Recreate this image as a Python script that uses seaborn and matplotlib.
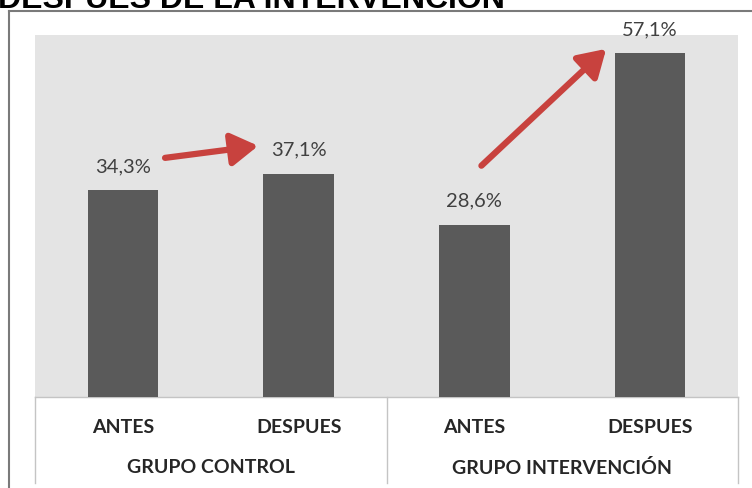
import matplotlib
matplotlib.use("Agg")
import matplotlib.pyplot as plt
import matplotlib.transforms as mtransforms
from matplotlib.lines import Line2D
import seaborn as sns
import pandas as pd

# ---- data ----
title = "DESPUÉS DE LA INTERVENCIÓN"
groups = ["GRUPO CONTROL", "GRUPO CONTROL", "GRUPO INTERVENCIÓN", "GRUPO INTERVENCIÓN"]
stages = ["ANTES", "DESPUES", "ANTES", "DESPUES"]
values = [34.3, 37.1, 28.6, 57.1]
group_labels = ["GRUPO CONTROL", "GRUPO INTERVENCIÓN"]

df = pd.DataFrame({"grupo": groups, "momento": stages, "valor": values})
df["clave"] = df["grupo"] + " | " + df["momento"]

W, H = 752, 488
fig = plt.figure(figsize=(W / 100, H / 100), dpi=100)
fig.patch.set_facecolor("white")
ax = fig.add_axes([35 / W, 91 / H, 703 / W, 362 / H])

sns.barplot(data=df, x="clave", y="valor", color="#5a5a5a", width=0.4,
            saturation=1, ax=ax, zorder=3)
ax.set_facecolor("#e4e4e4")
ax.set_ylim(0, 60.1)
ax.set_xlim(-0.5, 3.5)
ax.set_xlabel("")
ax.set_ylabel("")
ax.set_yticks([])
ax.set_xticks([])
for s in ["top", "right", "left"]:
    ax.spines[s].set_visible(False)
ax.spines["bottom"].set_color("#c4c4c4")
ax.spines["bottom"].set_linewidth(1.0)

lab_font = ["Lato", "DejaVu Sans"]

# data labels
for p, v in zip(ax.patches, df["valor"]):
    ax.annotate(f"{v:.1f}%".replace(".", ","),
                (p.get_x() + p.get_width() / 2, p.get_height()),
                xytext=(0, 17), textcoords="offset points",
                ha="center", va="center", fontsize=14.5, color="#404040",
                family=lab_font)

# category labels
trans = mtransforms.blended_transform_factory(ax.transData, ax.transAxes)
for i, st in enumerate(df["momento"]):
    ax.text(i, -0.083, st, transform=trans, ha="center", va="center",
            fontsize=14, fontweight="bold", color="#262626", family=lab_font)
for j, g in enumerate(group_labels):
    ax.text(2 * j + 0.5, -0.196, g, transform=trans, ha="center", va="center",
            fontsize=14, fontweight="bold", color="#262626", family=lab_font)

# category box lines
for xv in [-0.5, 1.5, 3.5]:
    ax.plot([xv, xv], [0, -0.238], transform=trans, color="#c4c4c4",
            lw=1.0, clip_on=False)

# arrows
arrow_kw = dict(arrowstyle="-|>,head_length=0.9,head_width=0.55",
                color="#c8423e", lw=4.5, mutation_scale=18,
                shrinkA=0, shrinkB=0)
ax.annotate("", xy=(0.77, 41.7), xytext=(0.24, 39.7), arrowprops=arrow_kw,
            zorder=5)
ax.annotate("", xy=(2.75, 57.8), xytext=(2.04, 38.4), arrowprops=arrow_kw,
            zorder=5)

# outer chart border
fig.add_artist(Line2D([9 / W, 9 / W], [0, (H - 11) / H], color="#7a7a7a",
                      lw=1.5, transform=fig.transFigure))
fig.add_artist(Line2D([9 / W, 1], [(H - 11) / H, (H - 11) / H], color="#7a7a7a",
                      lw=1.5, transform=fig.transFigure))

# title (cut at the top)
fig.text(-0.002, (H - 8) / H, title, fontsize=23, fontweight="bold",
         color="black", va="baseline", ha="left",
         family=["Liberation Sans", "DejaVu Sans"])

fig.savefig("out.png", dpi=100)
